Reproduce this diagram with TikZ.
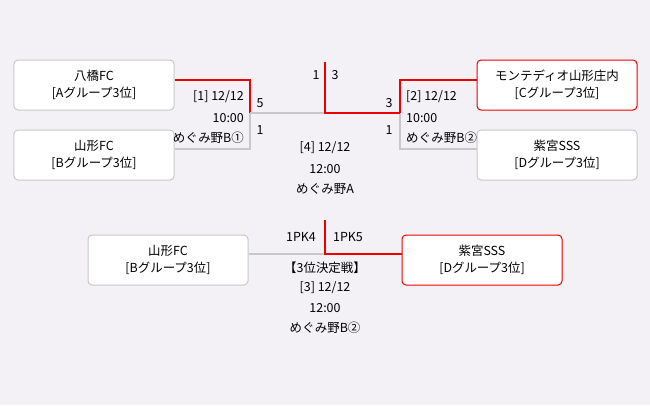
\documentclass[tikz,border=0pt]{standalone}
\usepackage{fontspec}
\setmainfont{Noto Sans CJK JP}
\definecolor{bgcol}{RGB}{243,241,245}
\definecolor{linegray}{RGB}{200,200,200}
\definecolor{winred}{RGB}{238,0,0}
\tikzset{
  team/.style={draw=linegray,line width=1bp,fill=white,rounded corners=4bp,minimum width=160bp,
    minimum height=50bp,align=center,inner sep=0pt,font=\fontsize{12.5}{17}\selectfont},
  winteam/.style={team,draw=winred},
  lose/.style={color=linegray,line width=2bp},
  win/.style={color=winred,line width=2bp},
  info/.style={inner sep=1pt,font=\fontsize{12.5}{14}\selectfont},
  score/.style={inner sep=1pt,font=\fontsize{12.5}{14}\selectfont}
}
\begin{document}
\begin{tikzpicture}[x=1bp,y=-1bp]
\fill[bgcol] (0,0) rectangle (650,405);
\useasboundingbox (0,0) rectangle (650,405);
% teams
\node[team] (yabase) at (94,85) {八橋FC\\{[}Aグループ3位{]}};
\node[team] (yamaB) at (94,155) {山形FC\\{[}Bグループ3位{]}};
\node[winteam] (monte) at (557,85) {モンテディオ山形庄内\\{[}Cグループ3位{]}};
\node[team] (shimiD) at (557,155) {紫宮SSS\\{[}Dグループ3位{]}};
\node[team] (yamaB3) at (168,260) {山形FC\\{[}Bグループ3位{]}};
\node[winteam] (shimi3) at (482,260) {紫宮SSS\\{[}Dグループ3位{]}};
% joints
\coordinate (m1) at (250,113);
\coordinate (m2) at (400,113);
\coordinate (f) at (325,113);
\coordinate (ftop) at (325,62);
\coordinate (t3) at (325,254);
\coordinate (t3top) at (325,220);
% match 1
\draw[lose] (m1) |- ([yshift=6bp]yamaB.east);
\draw[win] ([yshift=5bp]yabase.east) -| (m1);
% match 2
\draw[lose] (m2) |- ([yshift=6bp]shimiD.west);
\draw[win] (m2) |- ([yshift=5bp]monte.west);
% final
\draw[lose] (m1) -- (f);
\draw[win] (ftop) |- (m2);
% third place
\draw[lose] ([yshift=6bp]yamaB3.east) -| (t3);
\draw[win] (t3top) |- ([yshift=6bp]shimi3.west);
% scores
\node[score] (s1a) at (260,103) {5};
\node[score] (s1b) at (260,130) {1};
\node[score] (s2a) at (389,103) {3};
\node[score] (s2b) at (389,130) {1};
\node[score] (s4a) at (316,75) {1};
\node[score] (s4b) at (335,75) {3};
\node[score] (s3a) at (301,237) {1PK4};
\node[score] (s3b) at (348,237) {1PK5};
% match info
\node[info,anchor=east] (g1a) at (245,97) {[1] 12/12};
\node[info,anchor=east] (g1b) at (245,118) {10:00};
\node[info,anchor=east] (g1c) at (245,138) {めぐみ野B①};
\node[info,anchor=west] (g2a) at (405,97) {[2] 12/12};
\node[info,anchor=west] (g2b) at (405,118) {10:00};
\node[info,anchor=west] (g2c) at (405,138) {めぐみ野B②};
\node[info] (g4a) at (325,148) {[4] 12/12};
\node[info] (g4b) at (325,169) {12:00};
\node[info] (g4c) at (325,189) {めぐみ野A};
\node[info] (g3t) at (325,268) {【3位決定戦】};
\node[info] (g3a) at (325,288) {[3] 12/12};
\node[info] (g3b) at (325,308) {12:00};
\node[info] (g3c) at (325,328) {めぐみ野B②};
\end{tikzpicture}
\end{document}
